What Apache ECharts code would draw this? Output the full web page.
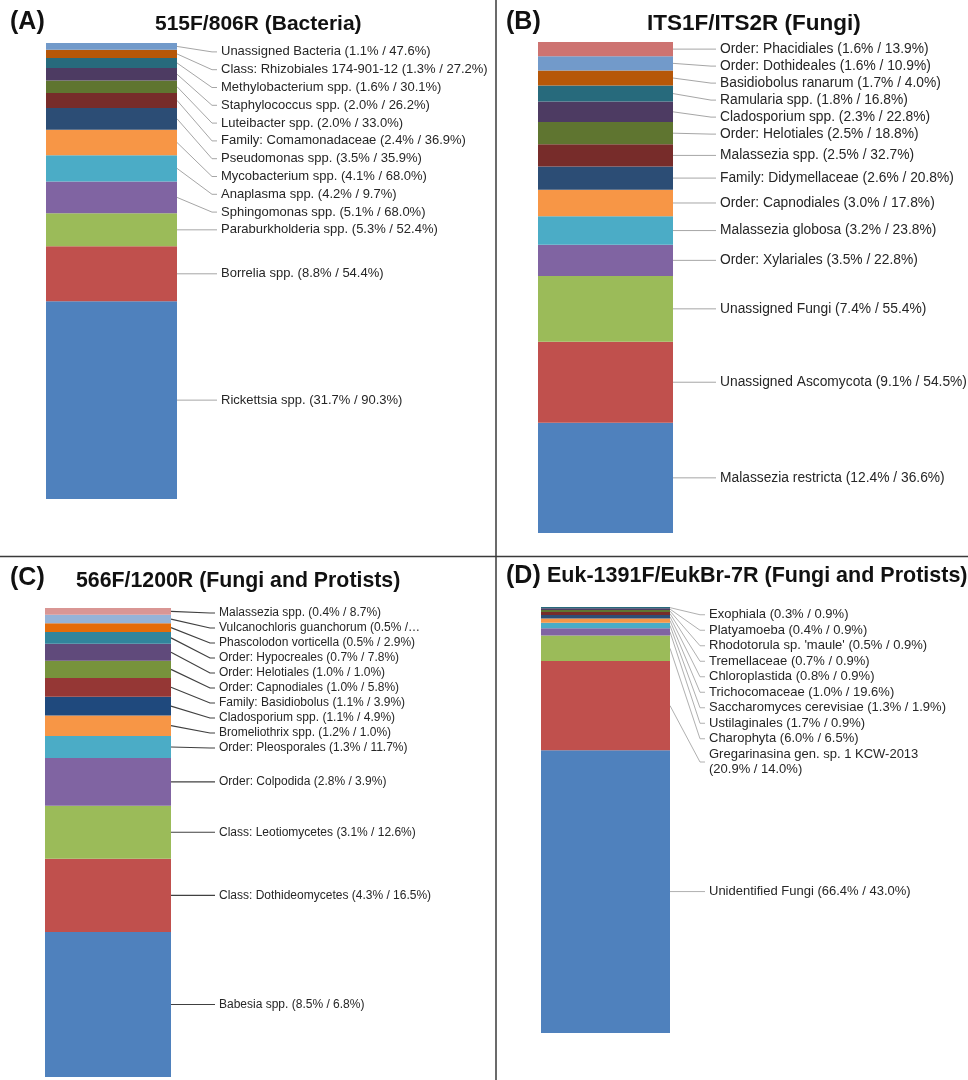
<!DOCTYPE html>
<html>
<head>
<meta charset="utf-8">
<title>Primer pair taxa</title>
<script src="https://cdn.jsdelivr.net/npm/echarts@6/dist/echarts.min.js"></script>
<style>
  html, body { margin: 0; padding: 0; background: #fff; }
  #chart { width: 968px; height: 1080px; }
</style>
</head>
<body>
<div id="chart"></div>
<script>
// taxa are listed top to bottom, as the labels read; abundance % / prevalence %
const taxaA = ['Unassigned Bacteria', 'Class: Rhizobiales 174-901-12', 'Methylobacterium spp.', 'Staphylococcus spp.',
  'Luteibacter spp.', 'Family: Comamonadaceae', 'Pseudomonas spp.', 'Mycobacterium spp.', 'Anaplasma spp.',
  'Sphingomonas spp.', 'Paraburkholderia spp.', 'Borrelia spp.', 'Rickettsia spp.'];
const abundA = [1.1, 1.3, 1.6, 2.0, 2.0, 2.4, 3.5, 4.1, 4.2, 5.1, 5.3, 8.8, 31.7];
const prevA = [47.6, 27.2, 30.1, 26.2, 33.0, 36.9, 35.9, 68.0, 9.7, 68.0, 52.4, 54.4, 90.3];

const taxaB = ['Order: Phacidiales', 'Order: Dothideales', 'Basidiobolus ranarum', 'Ramularia spp.', 'Cladosporium spp.',
  'Order: Helotiales', 'Malassezia spp.', 'Family: Didymellaceae', 'Order: Capnodiales', 'Malassezia globosa',
  'Order: Xylariales', 'Unassigned Fungi', 'Unassigned Ascomycota', 'Malassezia restricta'];
const abundB = [1.6, 1.6, 1.7, 1.8, 2.3, 2.5, 2.5, 2.6, 3.0, 3.2, 3.5, 7.4, 9.1, 12.4];
const prevB = [13.9, 10.9, 4.0, 16.8, 22.8, 18.8, 32.7, 20.8, 17.8, 23.8, 22.8, 55.4, 54.5, 36.6];

const taxaC = ['Malassezia spp.', 'Vulcanochloris guanchorum', 'Phascolodon vorticella', 'Order: Hypocreales',
  'Order: Helotiales', 'Order: Capnodiales', 'Family: Basidiobolus', 'Cladosporium spp.', 'Bromeliothrix spp.',
  'Order: Pleosporales', 'Order: Colpodida', 'Class: Leotiomycetes', 'Class: Dothideomycetes', 'Babesia spp.'];
const abundC = [0.4, 0.5, 0.5, 0.7, 1.0, 1.0, 1.1, 1.1, 1.2, 1.3, 2.8, 3.1, 4.3, 8.5];
const prevC = [8.7, null, 2.9, 7.8, 1.0, 5.8, 3.9, 4.9, 1.0, 11.7, 3.9, 12.6, 16.5, 6.8]; // null: cut off in the source

const taxaD = ['Exophiala', 'Platyamoeba', "Rhodotorula sp. 'maule'", 'Tremellaceae', 'Chloroplastida',
  'Trichocomaceae', 'Saccharomyces cerevisiae', 'Ustilaginales', 'Charophyta',
  'Gregarinasina gen. sp. 1 KCW-2013', 'Unidentified Fungi'];
const abundD = [0.3, 0.4, 0.5, 0.7, 0.8, 1.0, 1.3, 1.7, 6.0, 20.9, 66.4];
const prevD = [0.9, 0.9, 0.9, 0.9, 0.9, 19.6, 1.9, 0.9, 6.5, 14.0, 43.0];

// colours from the bottom of the stack upwards
const paletteOffice = ['#4F81BD', '#C0504D', '#9BBB59', '#8064A2', '#4BACC6', '#F79646', '#2C4D75', '#772C2A',
  '#5F7530', '#4D3B62', '#276A7C', '#B65708', '#729ACA', '#CD7371'];
const paletteC = ['#4F81BD', '#C0504D', '#9BBB59', '#8064A2', '#4BACC6', '#F79646', '#1F497D', '#953735',
  '#77933C', '#604A7B', '#31859C', '#E46C0A', '#95B3D7', '#D99694'];

const FONT = '"Liberation Sans", Arial, sans-serif';

const panels = [
  { tag: '(A)', title: '515F/806R (Bacteria)', taxa: taxaA, abund: abundA, prev: prevA, palette: paletteOffice,
    grid: { left: 46, top: 43, width: 131, height: 456 }, labelX: 221, lineH: 17.8, bound: 0, fontSize: 13,
    lineColor: '#a6a6a6', lineWidth: 1, tagXY: [10, 22], titleXY: [155, 24], titleSize: 21 },
  { tag: '(B)', title: 'ITS1F/ITS2R (Fungi)', taxa: taxaB, abund: abundB, prev: prevB, palette: paletteOffice,
    grid: { left: 538, top: 42, width: 135, height: 491 }, labelX: 720, lineH: 17, bound: -3, fontSize: 13.8,
    lineColor: '#a6a6a6', lineWidth: 1, tagXY: [506, 22], titleXY: [647, 24], titleSize: 22.5 },
  { tag: '(C)', title: '566F/1200R (Fungi and Protists)', taxa: taxaC, abund: abundC, prev: prevC, palette: paletteC,
    grid: { left: 45, top: 608, width: 126, height: 469 }, labelX: 219, lineH: 15, bound: -2.5, fontSize: 12,
    lineColor: '#404040', lineWidth: 1.2, tagXY: [10, 578], titleXY: [76, 581], titleSize: 21.3 },
  { tag: '(D)', title: 'Euk-1391F/EukBr-7R (Fungi and Protists)', taxa: taxaD, abund: abundD, prev: prevD, palette: paletteOffice,
    grid: { left: 541, top: 607, width: 129, height: 426 }, labelX: 709, lineH: 15.5, bound: 0, fontSize: 13,
    lineColor: '#b0b0b0', lineWidth: 1, tagXY: [506, 576], titleXY: [547, 576], titleSize: 21.5 }
];

function labelText(p, i) {
  const a = p.abund[i].toFixed(1) + '%';
  const b = p.prev[i] == null ? '…' : ' ' + p.prev[i].toFixed(1) + '%)';
  const sep = p.taxa[i].length > 30 ? '\n' : ' ';
  return p.taxa[i] + sep + '(' + a + ' /' + b;
}

function buildSeries(withLabels) {
  const series = [];
  panels.forEach((p, pi) => {
    const n = p.taxa.length;
    for (let i = n - 1; i >= 0; i--) {
      series.push({
        type: 'bar',
        name: p.taxa[i],
        xAxisIndex: pi,
        yAxisIndex: pi,
        stack: 'panel' + pi,
        barWidth: '100%',
        silent: true,
        data: [p.abund[i]],
        itemStyle: { color: p.palette[n - 1 - i] },
        label: {
          show: withLabels,
          position: 'right',
          formatter: labelText(p, i),
          color: '#262626',
          fontSize: p.fontSize,
          fontFamily: FONT,
          lineHeight: p.lineH
        },
        labelLayout: withLabels ? function () {
          return { x: p.labelX, y: p.labelY[i], align: 'left', verticalAlign: 'middle' };
        } : null
      });
    }
  });
  return series;
}

const staticGraphic = [
  { type: 'line', shape: { x1: 496, y1: 0, x2: 496, y2: 1080 }, style: { stroke: '#3a3a3a', lineWidth: 1.5 } },
  { type: 'line', shape: { x1: 0, y1: 556.5, x2: 968, y2: 556.5 }, style: { stroke: '#3a3a3a', lineWidth: 1.5 } }
];
panels.forEach(p => {
  staticGraphic.push({
    type: 'text', x: p.tagXY[0], y: p.tagXY[1],
    style: { text: p.tag, font: 'bold 25px ' + FONT, fill: '#111', textVerticalAlign: 'middle' }
  });
  staticGraphic.push({
    type: 'text', x: p.titleXY[0], y: p.titleXY[1],
    style: { text: p.title, font: 'bold ' + p.titleSize + 'px ' + FONT, fill: '#111', textVerticalAlign: 'middle' }
  });
});

const chart = echarts.init(document.getElementById('chart'), null, { renderer: 'canvas' });

chart.setOption({
  animation: false,
  backgroundColor: '#fff',
  grid: panels.map(p => Object.assign({ containLabel: false }, p.grid)),
  xAxis: panels.map((p, pi) => ({ type: 'category', gridIndex: pi, data: [''], show: false })),
  yAxis: panels.map((p, pi) => ({
    type: 'value', gridIndex: pi, min: 0,
    max: p.abund.slice().reverse().reduce((s, v) => s + v, 0),
    show: false
  })),
  series: buildSeries(false),
  graphic: staticGraphic
});

// place labels: start at each segment's middle, push down so they don't overlap
const leaderLines = [];
panels.forEach((p, pi) => {
  const n = p.taxa.length;
  const centers = new Array(n);
  let cum = 0;
  for (let i = n - 1; i >= 0; i--) {
    const lo = cum;
    cum += p.abund[i];
    centers[i] = chart.convertToPixel({ gridIndex: pi }, [0, (lo + cum) / 2])[1];
  }
  const topPx = chart.convertToPixel({ gridIndex: pi }, [0, cum])[1];
  const barRight = p.grid.left + p.grid.width;
  let prevBottom = topPx + p.bound;
  p.labelY = [];
  for (let i = 0; i < n; i++) {
    const h = labelText(p, i).split('\n').length * p.lineH;
    const top = Math.max(centers[i] - h / 2, prevBottom);
    p.labelY[i] = top + h / 2;
    prevBottom = top + h;
    const endX = p.labelX - 4;
    const ly = p.labelY[i];
    const pts = Math.abs(ly - centers[i]) < 0.6
      ? [[barRight, centers[i]], [endX, centers[i]]]
      : [[barRight, centers[i]], [endX - 5, ly], [endX, ly]];
    leaderLines.push({
      type: 'polyline', silent: true,
      shape: { points: pts },
      style: { stroke: p.lineColor, lineWidth: p.lineWidth, fill: null }
    });
  }
});

chart.setOption({
  series: buildSeries(true),
  graphic: staticGraphic.concat(leaderLines)
});
</script>
</body>
</html>
